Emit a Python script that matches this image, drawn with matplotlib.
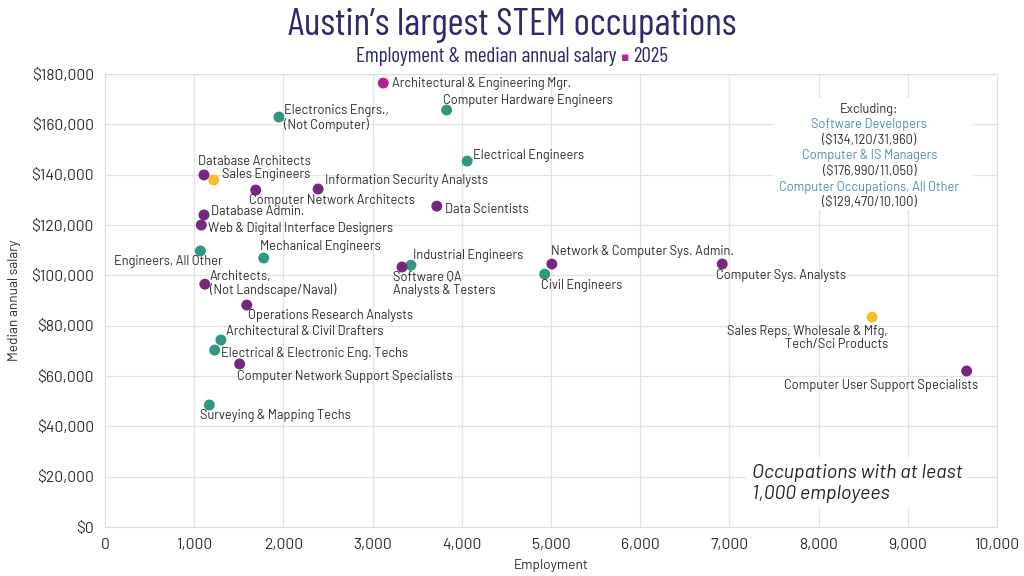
import matplotlib
matplotlib.use('Agg')
import matplotlib.pyplot as plt
from matplotlib import font_manager
from matplotlib.patches import Rectangle
from matplotlib.ticker import FuncFormatter, MultipleLocator

# occupations: name, employment, median salary, group
names = ['Architectural & Engineering Mgr.', 'Computer Hardware Engineers',
         'Electronics Engrs.,\n(Not Computer)', 'Electrical Engineers',
         'Database Architects', 'Sales Engineers', 'Computer Network Architects',
         'Information Security Analysts', 'Data Scientists', 'Database Admin.',
         'Web & Digital Interface Designers', 'Engineers, All Other',
         'Mechanical Engineers', 'Industrial Engineers',
         'Software QA\nAnalysts & Testers', 'Network & Computer Sys. Admin.',
         'Civil Engineers', 'Computer Sys. Analysts',
         'Sales Reps, Wholesale & Mfg,\nTech/Sci Products',
         'Computer User Support Specialists', 'Architects,\n(Not Landscape/Naval)',
         'Operations Research Analysts', 'Architectural & Civil Drafters',
         'Electrical & Electronic Eng. Techs',
         'Computer Network Support Specialists', 'Surveying & Mapping Techs']
employment = [3120, 3830, 1950, 4060, 1110, 1220, 1690, 2390, 3720, 1110,
              1080, 1070, 1780, 3430, 3330, 5010, 4930, 6920, 8600, 9660,
              1120, 1590, 1300, 1230, 1510, 1170]
salary = [176400, 165700, 162900, 145400, 139900, 137900, 133900, 134300,
          127500, 124000, 120000, 109700, 106900, 104000, 103300, 104500,
          100500, 104500, 83400, 62000, 96500, 88200, 74300, 70300, 64800,
          48500]
group = ['mgr', 'eng', 'eng', 'eng', 'comp', 'sales', 'comp', 'comp', 'comp',
         'comp', 'comp', 'eng', 'eng', 'eng', 'comp', 'comp', 'eng', 'comp',
         'sales', 'comp', 'comp', 'comp', 'eng', 'eng', 'comp', 'eng']

excluded_names = ['Software Developers', 'Computer & IS Managers',
                  'Computer Occupations, All Other']
excluded_salary = [134120, 176990, 129470]
excluded_emp = [31960, 11050, 10100]

colors = {'mgr': '#b3238e', 'eng': '#2f9882', 'comp': '#77277f',
          'sales': '#f7bd2f'}

# label placement: offset in pixels, horizontal alignment
label_pos = [(9, 0, 'left'), (-4, 10, 'left'), (5, -1, 'left'), (6, 6, 'left'),
             (-6, 13, 'left'), (8, 5, 'left'), (-7, -10, 'left'), (7, 9, 'left'),
             (8, -3, 'left'), (7, 3, 'left'), (7, -3, 'left'), (22, -11, 'right'),
             (-4, 11, 'left'), (2, 10, 'left'), (-9, -17, 'left'), (-1, 13, 'left'),
             (-4, -11, 'left'), (-6, -11, 'left'), (16, -21, 'right'),
             (11, -15, 'right'), (5, 1, 'left'), (1, -10, 'left'), (5, 9, 'left'),
             (6, -3, 'left'), (-3, -13, 'left'), (-9, -11, 'left')]

fams = {f.name for f in font_manager.fontManager.ttflist}
font = 'Barlow' if 'Barlow' in fams else 'Roboto'
title_font = 'Barlow Condensed' if 'Barlow Condensed' in fams else font

text_col = '#2a2a2a'
title_col = '#2b2a6b'

fig = plt.figure(figsize=(10.24, 5.76), dpi=100)
ax = fig.add_axes([0.1025, 0.085, 0.8711, 0.7865])

cols = [colors[g] for g in group]
ax.scatter(employment, salary, s=62, c=cols, zorder=3, linewidths=0)

for n, x, y, (dx, dy, ha) in zip(names, employment, salary, label_pos):
    ax.annotate(n, (x, y), xytext=(dx, dy), textcoords='offset pixels',
                ha=ha, va='center', multialignment=ha, fontsize=9.2,
                family=font, color=text_col, linespacing=1.02, zorder=4)

ax.set_xlim(0, 10000)
ax.set_ylim(0, 180000)
ax.xaxis.set_major_locator(MultipleLocator(1000))
ax.yaxis.set_major_locator(MultipleLocator(20000))
ax.xaxis.set_major_formatter(FuncFormatter(lambda v, p: f'{v:,.0f}'))
ax.yaxis.set_major_formatter(FuncFormatter(lambda v, p: f'${v:,.0f}'))
ax.grid(True, color='#e3e3e3', linewidth=0.9, zorder=0)
ax.set_axisbelow(True)
for s in ax.spines.values():
    s.set_color('#dddddd')
ax.tick_params(length=0, pad=8, labelsize=11.3, labelcolor=text_col)
for lab in ax.get_xticklabels() + ax.get_yticklabels():
    lab.set_family(font)
ax.set_xlabel('Employment', family=font, fontsize=9.8, color=text_col, labelpad=5)
ax.set_ylabel('Median annual salary', family=font, fontsize=9.8, color=text_col,
              labelpad=7)

# excluded box
ax.add_patch(Rectangle((0.749, 0.70), 0.224, 0.247, transform=ax.transAxes,
                       facecolor='white', edgecolor='none', zorder=2))
bx = 0.857
yy = 0.922
ax.text(bx, yy, 'Excluding:', transform=ax.transAxes, ha='center',
        va='center', fontsize=9.2, family=font, color=text_col, zorder=5)
for n, s_, e in zip(excluded_names, excluded_salary, excluded_emp):
    yy -= 0.0343
    ax.text(bx, yy, n, transform=ax.transAxes, ha='center', va='center',
            fontsize=9.2, family=font, color='#4a8cbf', zorder=5)
    yy -= 0.0343
    ax.text(bx, yy, f'(${s_:,}/{e:,})', transform=ax.transAxes, ha='center',
            va='center', fontsize=9.2, family=font, color=text_col, zorder=5)

ax.text(0.725, 0.096, 'Occupations with at least\n1,000 employees',
        transform=ax.transAxes, ha='left', va='center', fontsize=14.2,
        style='italic', family=font, color='#222222', linespacing=1.2,
        bbox=dict(facecolor='white', edgecolor='none', pad=4))

fig.text(0.5, 0.956, 'Austin\u2019s largest STEM occupations', ha='center',
         va='center', fontsize=28, family=title_font, color=title_col)
t1 = fig.text(0.6025, 0.902, 'Employment & median annual salary', ha='right',
              va='center', fontsize=15.2, family=title_font, color=title_col)
t2 = ax.annotate(' \u25aa ', (1, 0.42), xycoords=t1, ha='left', va='center',
                 fontsize=9, family='DejaVu Sans', color='#b3238e')
ax.annotate('2025', (1, 0.58), xycoords=t2, ha='left', va='center',
            fontsize=15.2, family=title_font, color=title_col)

fig.savefig('out.png', dpi=100)
